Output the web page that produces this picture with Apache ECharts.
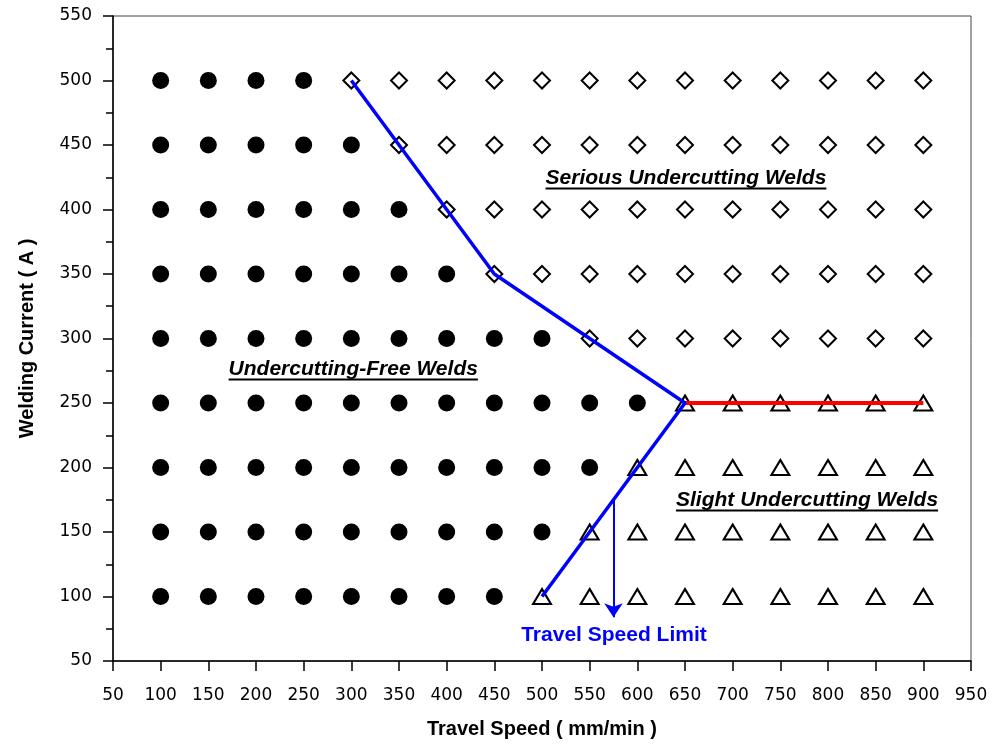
<!DOCTYPE html>
<html>
<head>
<meta charset="utf-8">
<script src="https://cdn.jsdelivr.net/npm/echarts@6/dist/echarts.min.js"></script>
<style>
html,body{margin:0;padding:0;background:#fff;}
#chart{width:1001px;height:744px;}
</style>
</head>
<body>
<div id="chart"></div>
<script>
// ---- data ----
const speeds = [100,150,200,250,300,350,400,450,500,550,600,650,700,750,800,850,900];
const currents = [500,450,400,350,300,250,200,150,100];
const lastFreeSpeed = [250,300,350,400,500,600,550,500,450];
const outcome = ['serious','serious','serious','serious','serious','slight','slight','slight','slight'];
const limitLineX = [300,450,550,650,500];
const limitLineY = [500,350,300,250,100];
const redLineX = [650,900];
const redLineY = [250,250];
const arrowFrom = [575,175];
const arrowTo = [575,84];
const xTicks = [50,950,50]; // min,max,interval
const yTicks = [50,550,50];
const regionLabels = [
  {text:'Serious Undercutting Welds', x:651, y:424},
  {text:'Undercutting-Free Welds', x:302, y:276},
  {text:'Slight Undercutting Welds', x:778, y:174.5}
];
const limitLabel = {text:'Travel Speed Limit', x:575.5, y:70};

// ---- build series data ----
const freePts = [], seriousPts = [], slightPts = [];
currents.forEach((c,i)=>{
  speeds.forEach(s=>{
    if (s <= lastFreeSpeed[i]) freePts.push([s,c]);
    else if (outcome[i]==='serious') seriousPts.push([s,c]);
    else slightPts.push([s,c]);
  });
});

const chart = echarts.init(document.getElementById('chart'), null, {renderer:'canvas'});
const axisText = {color:'#000', fontFamily:'DejaVu Sans', fontSize:17};
const titleStyle = {fontFamily:'Liberation Sans', fontWeight:'bold', fontSize:20, color:'#000'};
const option = {
  animation:false,
  backgroundColor:'#fff',
  grid:{left:113, right:30, top:16, bottom:81, show:true, borderColor:'#444', borderWidth:1},
  xAxis:{
    type:'value', min:xTicks[0], max:xTicks[1], interval:xTicks[2],
    name:'Travel Speed ( mm/min )', nameLocation:'middle', nameGap:58,
    nameTextStyle:titleStyle,
    axisLine:{onZero:false, lineStyle:{color:'#000', width:1.5}},
    axisTick:{inside:false, length:10, lineStyle:{color:'#000', width:1.5}},
    axisLabel:Object.assign({margin:26}, axisText),
    splitLine:{show:false}
  },
  yAxis:{
    type:'value', min:yTicks[0], max:yTicks[1], interval:yTicks[2],
    name:'Welding Current ( A )', nameLocation:'middle', nameGap:76, nameRotate:90,
    nameTextStyle:titleStyle,
    axisLine:{onZero:false, lineStyle:{color:'#000', width:1.5}},
    axisTick:{inside:false, length:10, lineStyle:{color:'#000', width:1.5}},
    minorTick:{show:true, splitNumber:2, length:7, lineStyle:{color:'#000', width:1.5}},
    axisLabel:Object.assign({margin:21}, axisText),
    splitLine:{show:false}
  },
  series:[
    {type:'scatter', data:freePts, symbol:'circle', symbolSize:17, itemStyle:{color:'#000', opacity:1}, z:2},
    {type:'scatter', data:seriousPts, symbol:'diamond', symbolSize:[16,16], itemStyle:{color:'#fff', borderColor:'#000', borderWidth:2, opacity:1}, z:2},
    {type:'scatter', data:slightPts, symbol:'triangle', symbolSize:[18,15], itemStyle:{color:'#fff', borderColor:'#000', borderWidth:2, opacity:1}, z:2},
    {type:'line', data:limitLineX.map((x,i)=>[x,limitLineY[i]]), showSymbol:false, symbol:'none', lineStyle:{color:'#0000ff', width:3.5}, z:5},
    {type:'line', data:redLineX.map((x,i)=>[x,redLineY[i]]), showSymbol:false, symbol:'none', lineStyle:{color:'#ff0000', width:4}, z:4},
    {type:'lines', coordinateSystem:'cartesian2d', data:[{coords:[arrowFrom, arrowTo]}],
     symbol:['none','arrow'], symbolSize:[16,14], lineStyle:{color:'#0000ff', width:2, opacity:1}, z:5}
  ]
};
chart.setOption(option);

// ---- text annotations (positioned through the axes) ----
const cv = document.createElement('canvas').getContext('2d');
const regionFont = 'italic bold 21px "Liberation Sans"';
cv.font = regionFont;
const graphics = [];
regionLabels.forEach(l=>{
  const p = chart.convertToPixel({gridIndex:0}, [l.x, l.y]);
  const w = cv.measureText(l.text).width;
  graphics.push({type:'text', x:p[0], y:p[1], z:10,
    style:{text:l.text, font:regionFont, fill:'#000', textAlign:'center', textVerticalAlign:'middle'}});
  graphics.push({type:'line', z:10, shape:{x1:p[0]-w/2, y1:p[1]+10, x2:p[0]+w/2, y2:p[1]+10},
    style:{stroke:'#000', lineWidth:2}});
});
const lp = chart.convertToPixel({gridIndex:0}, [limitLabel.x, limitLabel.y]);
graphics.push({type:'text', x:lp[0], y:lp[1], z:10,
  style:{text:limitLabel.text, font:'bold 21px "Liberation Sans"', fill:'#0000ff', textAlign:'center', textVerticalAlign:'middle'}});
chart.setOption({graphic:graphics});
</script>
</body>
</html>
